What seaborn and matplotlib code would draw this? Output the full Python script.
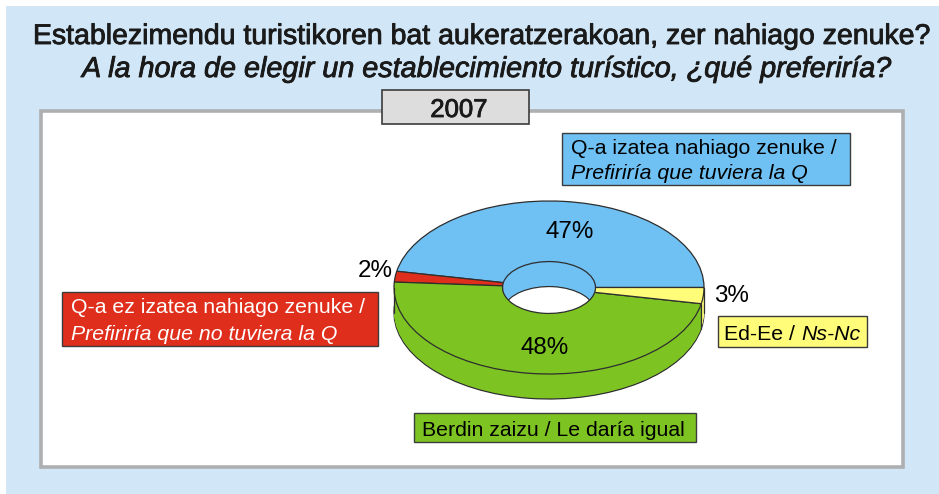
import matplotlib
matplotlib.use("Agg")
import matplotlib.pyplot as plt
import matplotlib.patheffects as pe
from matplotlib.patches import Rectangle
import seaborn as sns

title_eu = "Establezimendu turistikoren bat aukeratzerakoan, zer nahiago zenuke?"
title_es = "A la hora de elegir un establecimiento turístico, ¿qué preferiría?"
year = "2007"

# order of the slices, counter clockwise from the right
values = [47, 2, 48, 3]
slice_colors = ["#6FC0F3", "#DF2E1B", "#7DC423", "#FFFC7A"]
legend_eu = ["Q-a izatea nahiago zenuke /", "Q-a ez izatea nahiago zenuke /",
             "Berdin zaizu / Le daría igual", "Ed-Ee / "]
legend_es = ["Prefiriría que tuviera la Q", "Prefiriría que no tuviera la Q", "", "Ns-Nc"]

W, H = 939, 494
sns.set_theme(style="white")
plt.rcParams["font.family"] = ["Liberation Sans", "DejaVu Sans"]

fig = plt.figure(figsize=(W / 100, H / 100), dpi=100, facecolor="white")

# background layer in pixel coordinates
bg = fig.add_axes([0, 0, 1, 1])
bg.set_xlim(0, W)
bg.set_ylim(H, 0)
bg.axis("off")


def box(x0, y0, x1, y1, face, edge="#3C3C3C", lw=1.0, z=2):
    bg.add_patch(Rectangle((x0, y0), x1 - x0, y1 - y0, facecolor=face, edgecolor=edge, linewidth=lw, zorder=z))


def label(x, y, s, size=15.35, color="black", ha="left", style="normal", bold=False):
    t = fig.text(x / W, 1 - y / H, s, fontsize=size, color=color, ha=ha, va="center", style=style, zorder=10)
    if bold:
        t.set_path_effects([pe.withStroke(linewidth=0.6, foreground=color)])
    return t


box(6, 6, W + 2, H + 2, "#D1E6F6", edge="none", lw=0, z=0)
box(40.5, 110.5, 903, 467, "white", edge="#ADAFB1", lw=2.6, z=1)
box(382, 90, 529, 124, "#DDDDDD", lw=1.2, z=3)

box(562, 133, 850, 185, slice_colors[0])
box(62, 292, 378, 346, slice_colors[1])
box(414, 413, 696, 442, slice_colors[2])
box(718, 316, 867, 347, slice_colors[3])

# donut, squashed by giving the axes the size of the top ellipse
cx, cy, a, b = 549, 287.5, 155, 86.5
depth = 25
pie_ax = fig.add_axes([(cx - a) / W, 1 - (cy + b) / H, 2 * a / W, 2 * b / H], facecolor="none")
pie_ax.set_zorder(5)

edge = "#2E2E2E"
for k in range(depth, -1, -1):
    if k == depth or k == 0:
        props = dict(width=0.70, edgecolor=edge, linewidth=0.9)
    else:
        props = dict(width=0.70, linewidth=0)
    wedges, _ = pie_ax.pie(values, colors=slice_colors, startangle=0, counterclock=True,
                           center=(0, -k / b), radius=1, wedgeprops=props)
    for w in wedges:
        w.set_clip_on(False)

pie_ax.set_aspect("auto")
pie_ax.set_xlim(-1, 1)
pie_ax.set_ylim(-1, 1)
pie_ax.axis("off")
# sides of the extruded ring
pie_ax.plot([-1, -1], [0, -depth / b], color=edge, lw=0.9, clip_on=False, zorder=1)
pie_ax.plot([1, 1], [0, -depth / b], color=edge, lw=0.9, clip_on=False, zorder=1)
pie_ax.plot([0.982, 0.982], [-0.187, -0.187 - depth / b], color=edge, lw=0.9, clip_on=False, zorder=1)

# percentages
label(570, 232, f"{values[0]}%", size=17.4, ha="center")
label(375, 271, f"{values[1]}%", size=17.4, ha="center")
label(545, 348, f"{values[2]}%", size=17.4, ha="center")
label(731, 296, f"{values[3]}%", size=17.4, ha="center")

# titles
label(481.5, 37, title_eu, size=20.5, ha="center", color="#1A1A1A", bold=True)
label(487, 69, title_es, size=20.7, ha="center", color="#1A1A1A", style="italic", bold=True)
label(459, 110, year, size=18.5, ha="center", color="#1A1A1A", bold=True)

# legend boxes
label(571, 148, legend_eu[0])
label(571, 173, legend_es[0], style="italic")
label(71, 307, legend_eu[1], color="white")
label(71, 334, legend_es[1], color="white", style="italic")
label(422, 430, legend_eu[2])
t = label(724, 334, legend_eu[3])
r = t.get_window_extent(fig.canvas.get_renderer())
label(r.x1 + 1, 334, legend_es[3], style="italic")

fig.savefig("out.png", dpi=100)
